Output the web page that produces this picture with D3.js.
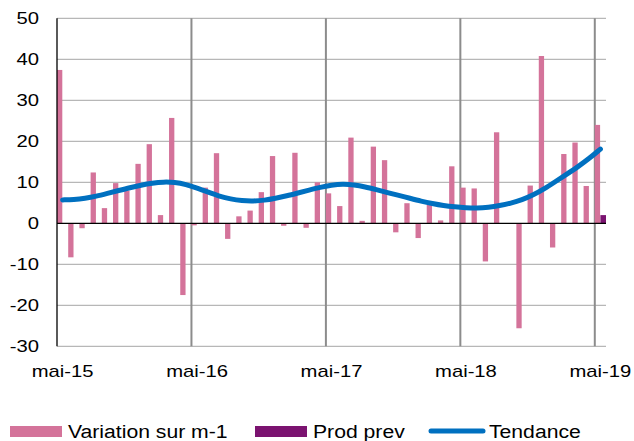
<!DOCTYPE html>
<html>
<head>
<meta charset="utf-8">
<script src="https://cdn.jsdelivr.net/npm/d3@7"></script>
<style>
  body { margin: 0; background: #fff; }
  text { font-family: "Liberation Sans", Arial, sans-serif; fill: #000; }
</style>
</head>
<body>
<div id="chart"></div>
<script>
// months shown on the category axis
var months = [
  "mai-15","juin-15","juil-15","août-15","sept-15","oct-15","nov-15","déc-15",
  "janv-16","févr-16","mars-16","avr-16","mai-16","juin-16","juil-16","août-16","sept-16","oct-16","nov-16","déc-16",
  "janv-17","févr-17","mars-17","avr-17","mai-17","juin-17","juil-17","août-17","sept-17","oct-17","nov-17","déc-17",
  "janv-18","févr-18","mars-18","avr-18","mai-18","juin-18","juil-18","août-18","sept-18","oct-18","nov-18","déc-18",
  "janv-19","févr-19","mars-19","avr-19","mai-19"
];

var variation = [
  37.4, -8.3, -1.2, 12.4, 3.7, 9.8, 8.0, 14.5,
  19.3, 2.0, 25.7, -17.5, -0.5, 8.7, 17.1, -3.8, 1.7, 3.1, 7.6, 16.4,
  -0.6, 17.2, -1.1, 10.0, 7.3, 4.2, 20.9, 0.6, 18.7, 15.4, -2.2, 4.9,
  -3.6, 4.5, 0.7, 13.9, 8.7, 8.5, -9.3, 22.2, 0.0, -25.6, 9.2, 40.8,
  -5.9, 16.9, 19.7, 9.1, 24.0
];

var prodPrev = [{ month: "mai-19", value: 2.0 }];

var tendance = [
  5.7, 5.8, 6.1, 6.6, 7.3, 8.0, 8.7, 9.3,
  9.8, 10.1, 10.0, 9.5, 8.6, 7.6, 6.6, 5.9, 5.5, 5.4, 5.6, 6.1, 6.7, 7.4,
  8.1, 8.8, 9.3, 9.6, 9.4, 8.9, 8.2, 7.5, 6.8, 6.1, 5.4, 4.8, 4.3, 4.0,
  3.8, 3.7, 3.9, 4.3, 4.9, 5.7, 6.9, 8.4, 10.2, 12.0, 13.8, 15.8, 18.1
];

var yTicks = [50, 40, 30, 20, 10, 0, -10, -20, -30];
var xLabels = ["mai-15", "mai-16", "mai-17", "mai-18", "mai-19"];

(function () {
  var W = 634, H = 441;
  var plotLeft = 57, plotRight = 606, plotTop = 18.3, plotBottom = 346.3;
  var stretch = 1.19;

  var svg = d3.select("#chart").append("svg")
    .attr("width", W).attr("height", H);

  var x = d3.scaleBand().domain(months).range([plotLeft, plotRight]).padding(0);
  var y = d3.scaleLinear().domain([-30, 50]).range([plotBottom, plotTop]);
  var bw = x.bandwidth();

  function label(g, tx, ty, str, anchor, size) {
    g.append("text")
      .attr("transform", "translate(" + tx + "," + ty + ") scale(" + stretch + ",1)")
      .attr("text-anchor", anchor)
      .style("font-size", (size || 17) + "px")
      .text(str);
  }

  // horizontal grid
  svg.append("g").selectAll("line")
    .data(yTicks.filter(function (d) { return d !== 0; }))
    .enter().append("line")
    .attr("x1", plotLeft).attr("x2", plotRight)
    .attr("y1", function (d) { return y(d); })
    .attr("y2", function (d) { return y(d); })
    .attr("stroke", "#a6a6a6").attr("stroke-width", 1);

  // vertical year lines
  svg.append("g").selectAll("line")
    .data(xLabels.slice(1))
    .enter().append("line")
    .attr("x1", function (d) { return x(d); })
    .attr("x2", function (d) { return x(d); })
    .attr("y1", plotTop).attr("y2", plotBottom)
    .attr("stroke", "#8c8c8c").attr("stroke-width", 2);

  // bars
  svg.append("g").selectAll("rect")
    .data(variation)
    .enter().append("rect")
    .attr("x", function (d, i) { return x(months[i]); })
    .attr("width", bw / 2 - 0.3)
    .attr("y", function (d) { return y(Math.max(0, d)); })
    .attr("height", function (d) { return Math.abs(y(d) - y(0)); })
    .attr("fill", "#d4739a");

  svg.append("g").selectAll("rect")
    .data(prodPrev)
    .enter().append("rect")
    .attr("x", function (d) { return x(d.month) + bw / 2; })
    .attr("width", bw / 2)
    .attr("y", function (d) { return y(Math.max(0, d.value)); })
    .attr("height", function (d) { return Math.abs(y(d.value) - y(0)); })
    .attr("fill", "#7b1370");

  // zero line and left axis
  svg.append("line")
    .attr("x1", plotLeft).attr("x2", plotRight)
    .attr("y1", y(0)).attr("y2", y(0))
    .attr("stroke", "#000").attr("stroke-width", 1.3);
  svg.append("line")
    .attr("x1", plotLeft).attr("x2", plotLeft)
    .attr("y1", plotTop).attr("y2", plotBottom)
    .attr("stroke", "#000").attr("stroke-width", 1.3);

  // trend line
  var line = d3.line()
    .x(function (d, i) { return x(months[i]) + bw / 2; })
    .y(function (d) { return y(d); })
    .curve(d3.curveBasis);

  svg.append("path")
    .datum(tendance)
    .attr("d", line)
    .attr("fill", "none")
    .attr("stroke", "#0070c0")
    .attr("stroke-width", 5)
    .attr("stroke-linecap", "round")
    .attr("stroke-linejoin", "round");

  // y labels
  var ya = svg.append("g");
  yTicks.forEach(function (t) {
    label(ya, 39, y(t) + 6, String(t), "end");
  });

  // x labels
  var xa = svg.append("g");
  xLabels.forEach(function (m) {
    label(xa, x(m) + bw / 2, 377, m, "middle");
  });

  // legend
  var lg = svg.append("g");
  lg.append("rect").attr("x", 10).attr("y", 426).attr("width", 52).attr("height", 11).attr("fill", "#d4739a");
  label(lg, 68, 438, "Variation sur m-1", "start", 17.8);
  lg.append("rect").attr("x", 255).attr("y", 426).attr("width", 52).attr("height", 11).attr("fill", "#7b1370");
  label(lg, 313, 438, "Prod prev", "start", 17.8);
  lg.append("line").attr("x1", 431).attr("x2", 483).attr("y1", 431).attr("y2", 431)
    .attr("stroke", "#0070c0").attr("stroke-width", 5).attr("stroke-linecap", "round");
  label(lg, 489, 438, "Tendance", "start", 17.8);
})();
</script>
</body>
</html>
